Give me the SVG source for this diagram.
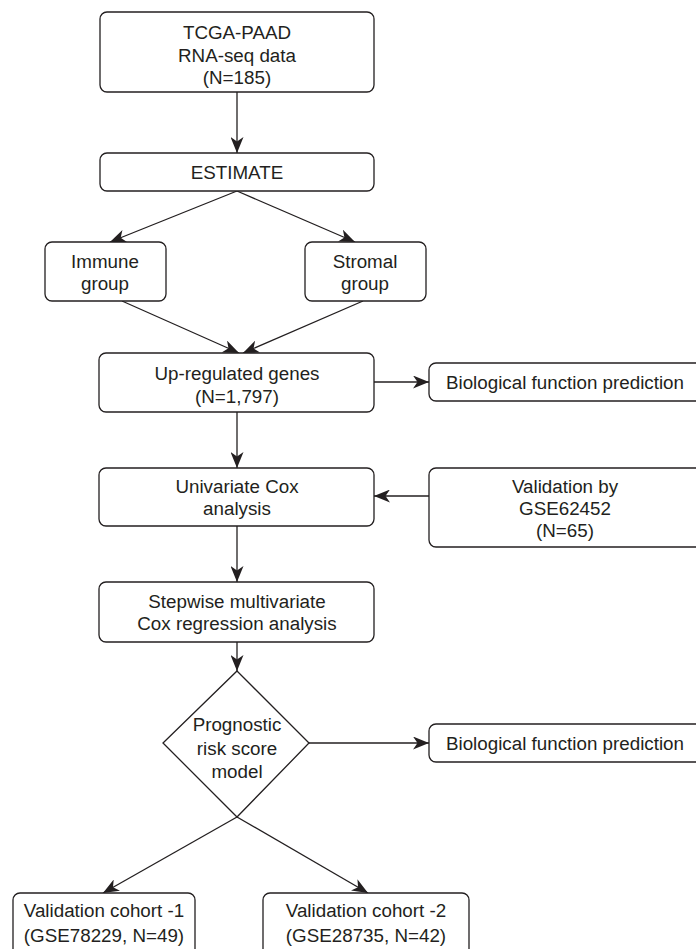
<svg xmlns="http://www.w3.org/2000/svg" width="696" height="949" viewBox="0 0 696 949">
<defs>
<style>
.box{fill:#fff;stroke:#231f20;stroke-width:1.3}
.t{font-family:"Liberation Sans",Arial,Helvetica,sans-serif;font-size:18.8px;fill:#231f20;text-anchor:middle}
.c{fill:none;stroke:#231f20;stroke-width:1.3;marker-end:url(#ah)}
</style>
<marker id="ah" markerUnits="userSpaceOnUse" markerWidth="17" markerHeight="13" viewBox="0 0 17 13" refX="16" refY="6.5" orient="auto">
<path d="M0,0 L16,6.5 L0,13 L4.5,6.5 Z" fill="#231f20"/>
</marker>
</defs>
<rect width="696" height="949" fill="#fff"/>
<g id="connectors">
<line class="c" x1="237" y1="92" x2="237" y2="153"/>
<line class="c" x1="237" y1="191" x2="110" y2="242"/>
<line class="c" x1="237" y1="191" x2="355" y2="242"/>
<line class="c" x1="122" y1="301" x2="239" y2="353"/>
<line class="c" x1="363" y1="301" x2="243" y2="353"/>
<line class="c" x1="374" y1="382" x2="429" y2="382"/>
<line class="c" x1="237" y1="412" x2="237" y2="468"/>
<line class="c" x1="429" y1="496" x2="374" y2="496"/>
<line class="c" x1="237" y1="526" x2="237" y2="582"/>
<line class="c" x1="237" y1="642" x2="237" y2="671"/>
<line class="c" x1="309" y1="743" x2="429" y2="743"/>
<line class="c" x1="237" y1="817" x2="103" y2="893"/>
<line class="c" x1="237" y1="817" x2="368" y2="893"/>
</g>
<g id="tcga">
<rect class="box" x="100" y="12" width="274" height="80" rx="7"/>
<text class="t" x="237" y="39">TCGA-PAAD</text>
<text class="t" x="237" y="62">RNA-seq data</text>
<text class="t" x="237" y="84">(N=185)</text>
</g>
<g id="estimate">
<rect class="box" x="100" y="153" width="274" height="38" rx="7"/>
<text class="t" x="237" y="179">ESTIMATE</text>
</g>
<g id="immune">
<rect class="box" x="45" y="242" width="121" height="59" rx="7"/>
<text class="t" x="105" y="268">Immune</text>
<text class="t" x="105" y="290">group</text>
</g>
<g id="stromal">
<rect class="box" x="305" y="242" width="121" height="59" rx="7"/>
<text class="t" x="365" y="268">Stromal</text>
<text class="t" x="365" y="290">group</text>
</g>
<g id="upregulated">
<rect class="box" x="99" y="353" width="275" height="59" rx="7"/>
<text class="t" x="237" y="380">Up-regulated genes</text>
<text class="t" x="237" y="403">(N=1,797)</text>
</g>
<g id="bio1">
<rect class="box" x="429" y="363" width="275" height="38" rx="7"/>
<text class="t" x="565" y="389">Biological function prediction</text>
</g>
<g id="univariate">
<rect class="box" x="99" y="468" width="275" height="58" rx="7"/>
<text class="t" x="237" y="493">Univariate Cox</text>
<text class="t" x="237" y="515">analysis</text>
</g>
<g id="validation-gse62452">
<rect class="box" x="429" y="468" width="275" height="79" rx="7"/>
<text class="t" x="565" y="493">Validation by</text>
<text class="t" x="565" y="515">GSE62452</text>
<text class="t" x="565" y="537">(N=65)</text>
</g>
<g id="stepwise">
<rect class="box" x="99" y="582" width="275" height="60" rx="7"/>
<text class="t" x="237" y="608">Stepwise multivariate</text>
<text class="t" x="237" y="630">Cox regression analysis</text>
</g>
<g id="model">
<polygon class="box" points="237,671 309,743 237,817 163,743"/>
<text class="t" x="237" y="731">Prognostic</text>
<text class="t" x="237" y="755">risk score</text>
<text class="t" x="237" y="778">model</text>
</g>
<g id="bio2">
<rect class="box" x="429" y="724" width="275" height="38" rx="7"/>
<text class="t" x="565" y="750">Biological function prediction</text>
</g>
<g id="cohort1">
<rect class="box" x="13" y="893" width="182" height="70" rx="7"/>
<text class="t" x="104" y="917">Validation cohort -1</text>
<text class="t" x="104" y="942">(GSE78229, N=49)</text>
</g>
<g id="cohort2">
<rect class="box" x="263" y="893" width="206" height="70" rx="7"/>
<text class="t" x="366" y="917">Validation cohort -2</text>
<text class="t" x="366" y="942">(GSE28735, N=42)</text>
</g>
</svg>
